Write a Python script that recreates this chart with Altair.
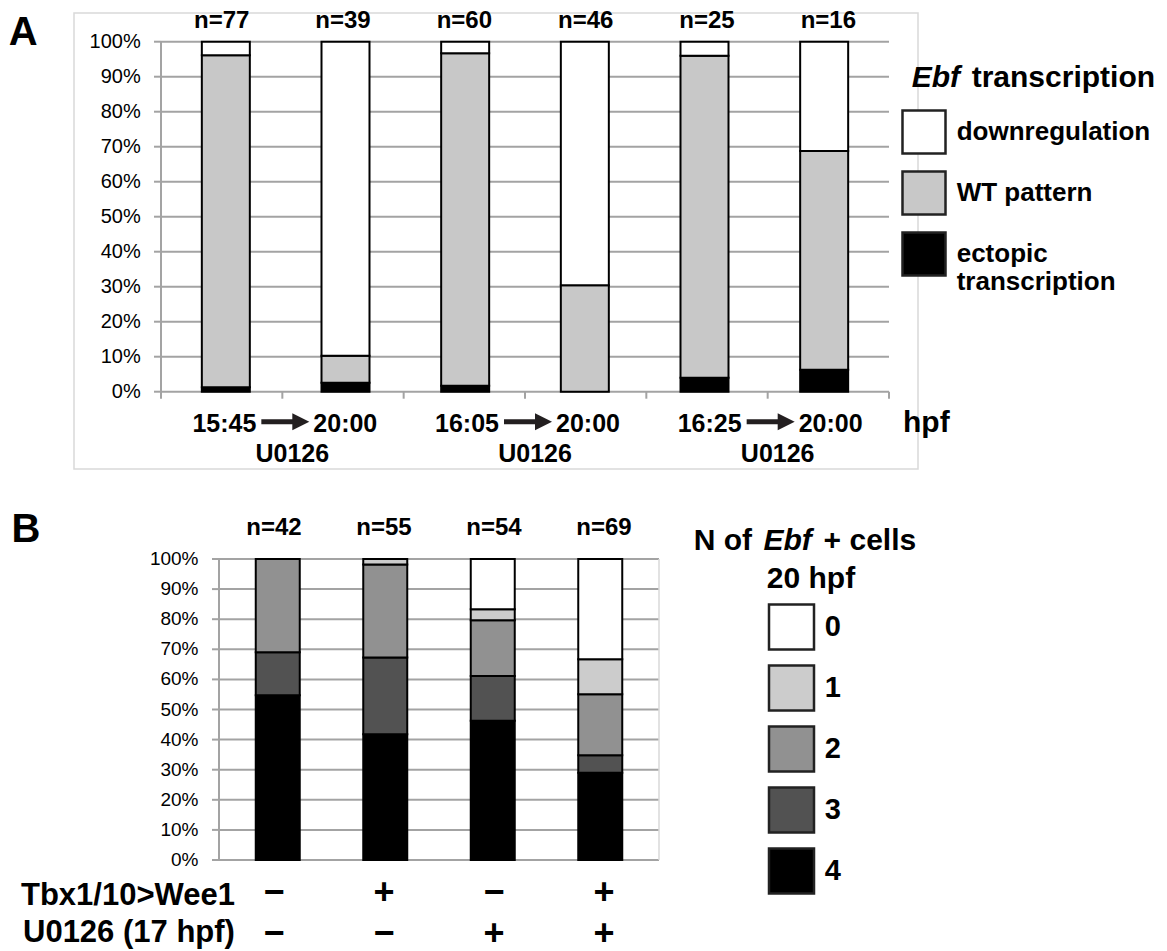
import altair as alt
import pandas as pd

FONT = "Liberation Sans"
GRID = "#a3a3a3"

# ---------------- Panel A data ----------------
a_n = [77, 39, 60, 46, 25, 16]
a_ectopic = [1, 1, 1, 0, 1, 1]
a_wt = [73, 3, 57, 14, 23, 10]
a_down = [3, 35, 2, 32, 1, 5]
a_cats = ["ectopic transcription", "WT pattern", "downregulation"]  # bottom -> top
a_colors = ["#000000", "#c8c8c8", "#ffffff"]
a_start = ["15:45", "16:05", "16:25"]
a_end = ["20:00", "20:00", "20:00"]
a_drug = ["U0126", "U0126", "U0126"]
a_legend_keys = ["downregulation", "WT pattern", "ectopic transcription"]
a_legend_labels = ["downregulation", "WT pattern", "ectopic\ntranscription"]

# ---------------- Panel B data ----------------
b_n = [42, 55, 54, 69]
b_4 = [23, 23, 25, 20]
b_3 = [6, 14, 8, 4]
b_2 = [13, 17, 10, 14]
b_1 = [0, 1, 2, 8]
b_0 = [0, 0, 9, 23]
b_cats = ["4", "3", "2", "1", "0"]  # bottom -> top
b_colors = ["#000000", "#525252", "#919191", "#cccccc", "#ffffff"]
b_wee1 = ["\u2212", "+", "\u2212", "+"]
b_u0126 = ["\u2212", "\u2212", "+", "+"]
b_legend_keys = ["0", "1", "2", "3", "4"]

tick_vals = [0.0, 0.1, 0.2, 0.3, 0.4, 0.5, 0.6, 0.7, 0.8, 0.9, 1.0]
tick_labels = ["0%", "10%", "20%", "30%", "40%", "50%", "60%", "70%", "80%", "90%", "100%"]

# ---------------- tables ----------------
rowsA = []
for i in range(len(a_n)):
    for rank, (cat, vals) in enumerate(zip(a_cats, [a_ectopic, a_wt, a_down])):
        if vals[i] > 0:
            rowsA.append({"bar": i + 0.5, "cat": cat, "count": vals[i], "rank": rank})
dfA = pd.DataFrame(rowsA)

rowsB = []
for i in range(len(b_n)):
    for rank, (cat, vals) in enumerate(zip(b_cats, [b_4, b_3, b_2, b_1, b_0])):
        if vals[i] > 0:
            rowsB.append({"bar": i + 0.5, "cat": cat, "count": vals[i], "rank": rank})
dfB = pd.DataFrame(rowsB)

dfAn = pd.DataFrame({"bar": [i + 0.5 for i in range(len(a_n))], "label": [f"n={n}" for n in a_n]})
dfBn = pd.DataFrame({"bar": [i + 0.5 for i in range(len(b_n))], "label": [f"n={n}" for n in b_n]})
dfTicks = pd.DataFrame({"v": tick_vals, "label": tick_labels})
dfAG = pd.DataFrame({"b": [2 * i + 1 for i in range(len(a_start))], "start": a_start, "end": a_end, "drug": a_drug})
dfAB = pd.DataFrame({"b": list(range(len(a_n) + 1))})
dfSigns = pd.DataFrame({"bar": [i + 0.5 for i in range(len(b_n))], "wee1": b_wee1, "u0126": b_u0126})
one = pd.DataFrame({"k": [0]})


def sc(dom, rng, typ="linear"):
    return alt.Scale(domain=dom, range=rng, nice=False, zero=False, type=typ)


XA = ([0, 6], [153, 881])
YA = ([0, 1], [383.7, 33.7])
XB = ([0, 4], [211, 651])
YB = ([0, 1], [852, 551])


def xf(field, d):
    return alt.X(field, type="quantitative", scale=sc(*d), axis=None)


def yf(field, d, **kw):
    return alt.Y(field, type="quantitative", scale=sc(*d), axis=None, **kw)


def xd(v, d):
    return alt.XDatum(v, type="quantitative", scale=sc(*d), axis=None)


def yd(v, d):
    return alt.YDatum(v, type="quantitative", scale=sc(*d), axis=None)


def text(df, size, bold=True, **kw):
    return alt.Chart(df).mark_text(font=FONT, fontSize=size,
                                   fontWeight="bold" if bold else "normal", color="black", **kw)


def single(t, size, x, y, bold=True, **kw):
    return text(pd.DataFrame({"t": [t]}), size, bold, **kw).encode(
        text="t:N", x=alt.value(x), y=alt.value(y))


layers = []


def panel_frame(X, Y, df_bars, cats, colors, bar_size, dfn, n_y, tick_label_x, label_size, bottom_ticks):
    # gridlines (incl. 0% baseline)
    layers.append(alt.Chart(dfTicks).mark_rule(color=GRID, strokeWidth=2).encode(
        x=xd(X[0][0], X), x2=alt.X2Datum(X[0][1]), y=yf("v", Y)))
    # left ticks
    layers.append(alt.Chart(dfTicks).mark_rule(color=GRID, strokeWidth=2, xOffset=-7).encode(
        x=xd(X[0][0], X), x2=alt.X2Datum(X[0][0]), y=yf("v", Y)))
    # left axis line
    layers.append(alt.Chart(one).mark_rule(color=GRID, strokeWidth=2).encode(
        x=xd(X[0][0], X), y=yd(0, Y), y2=alt.Y2Datum(1)))
    if bottom_ticks:
        layers.append(alt.Chart(dfAB).mark_rule(color=GRID, strokeWidth=2, y2Offset=7).encode(
            x=xf("b", X), y=yd(0, Y), y2=alt.Y2Datum(0)))
    # tick labels
    layers.append(text(dfTicks, label_size, bold=False, align="right", baseline="middle").encode(
        x=alt.value(tick_label_x), y=yf("v", Y), text="label:N"))
    # bars
    layers.append(alt.Chart(df_bars).mark_bar(size=bar_size, stroke="black", strokeWidth=2).encode(
        x=xf("bar", X),
        y=yf("count", Y, stack="normalize"),
        fill=alt.Fill("cat:N", scale=alt.Scale(domain=cats, range=colors), legend=None),
        order=alt.Order("rank:Q")))
    # n= labels
    layers.append(text(dfn, 24, align="center", baseline="alphabetic").encode(
        x=xf("bar", X), y=alt.value(n_y), text="label:N"))


# ---------------- Panel A ----------------
layers.append(alt.Chart(one).mark_rect(fillOpacity=0, stroke="#d9d9d9", strokeWidth=1.5).encode(
    x=alt.value(66), x2=alt.value(910), y=alt.value(5), y2=alt.value(461)))
panel_frame(XA, YA, dfA, a_cats, a_colors, 48, dfAn, 20, 132.7, 20, True)

# group labels with arrows
layers.append(text(dfAG, 25, align="right", baseline="alphabetic", dx=-26).encode(
    x=xf("b", XA), y=alt.value(423.7), text="start:N"))
layers.append(text(dfAG, 25, align="left", baseline="alphabetic", dx=31).encode(
    x=xf("b", XA), y=alt.value(423.7), text="end:N"))
layers.append(text(dfAG, 25, align="center", baseline="alphabetic", dx=10).encode(
    x=xf("b", XA), y=alt.value(453.7), text="drug:N"))
layers.append(alt.Chart(dfAG).mark_rule(color="#231f20", strokeWidth=5, xOffset=-21, x2Offset=12).encode(
    x=xf("b", XA), x2="b:Q", y=alt.value(413.7)))
layers.append(alt.Chart(dfAG).mark_point(shape="M-1,-1L1,0L-1,1Z", size=289, filled=True, color="#231f20",
                                         opacity=1, xOffset=18.5).encode(
    x=xf("b", XA), y=alt.value(413.7)))
layers.append(single("hpf", 30, 895, 424, align="left", baseline="alphabetic"))
layers.append(single("A", 40, 0.7, 37, align="left", baseline="alphabetic"))

# legend A
legA = pd.DataFrame({"key": a_legend_keys, "label": a_legend_labels})
ya_leg = alt.Y("key:N", scale=alt.Scale(type="point", domain=a_legend_keys, range=[124, 246], padding=0), axis=None)
layers.append(alt.Chart(legA).mark_square(size=1850, filled=True, stroke="#222222", strokeWidth=2.5, opacity=1).encode(
    x=alt.value(916), y=ya_leg,
    fill=alt.Fill("key:N", scale=alt.Scale(domain=a_cats, range=a_colors), legend=None)))
layers.append(text(legA, 26, align="left", baseline="middle", lineBreak="\n", lineHeight=28).encode(
    x=alt.value(948.7), y=ya_leg, text="label:N"))
layers.append(single("Ebf", 30, 903.7, 79, align="left", baseline="alphabetic", fontStyle="italic"))
layers.append(single("transcription", 30, 963.7, 79, align="left", baseline="alphabetic"))

# ---------------- Panel B ----------------
panel_frame(XB, YB, dfB, b_cats, b_colors, 44, dfBn, 527, 190.5, 19, False)
layers.append(alt.Chart(one).mark_rule(color="#d9d9d9", strokeWidth=1.5).encode(
    x=xd(4, XB), y=yd(0, YB), y2=alt.Y2Datum(1)))
layers.append(single("B", 40, 3.5, 533.7, align="left", baseline="alphabetic"))
layers.append(single("Tbx1/10>Wee1", 31, 13, 897, align="left", baseline="alphabetic"))
layers.append(single("U0126 (17 hpf)", 31, 15, 934, align="left", baseline="alphabetic"))
layers.append(text(dfSigns, 36, align="center", baseline="middle").encode(
    x=xf("bar", XB), y=alt.value(885), text="wee1:N"))
layers.append(text(dfSigns, 36, align="center", baseline="middle").encode(
    x=xf("bar", XB), y=alt.value(926), text="u0126:N"))

# legend B
legB = pd.DataFrame({"key": b_legend_keys})
yb_leg = alt.Y("key:N", scale=alt.Scale(type="point", domain=b_legend_keys, range=[619, 863], padding=0), axis=None)
layers.append(alt.Chart(legB).mark_square(size=2025, filled=True, stroke="#222222", strokeWidth=2.5, opacity=1).encode(
    x=alt.value(783.5), y=yb_leg,
    fill=alt.Fill("key:N", scale=alt.Scale(domain=b_cats, range=b_colors), legend=None)))
layers.append(text(legB, 29, align="left", baseline="middle").encode(
    x=alt.value(816.7), y=yb_leg, text="key:N"))
layers.append(single("N of", 30, 685.7, 542, align="left", baseline="alphabetic"))
layers.append(single("Ebf", 30, 755.5, 542, align="left", baseline="alphabetic", fontStyle="italic"))
layers.append(single("+ cells", 30, 815.6, 542, align="left", baseline="alphabetic"))
layers.append(single("20 hpf", 30, 803, 580, align="center", baseline="alphabetic"))

chart = alt.layer(*layers).resolve_scale(
    x="independent", y="independent", fill="independent"
).properties(
    width=1151, height=943, autosize=alt.AutoSizeParams(type="none"), padding=0
).configure_view(strokeWidth=0)

chart.save("out.html", embed_options={"renderer": "svg", "actions": False})
